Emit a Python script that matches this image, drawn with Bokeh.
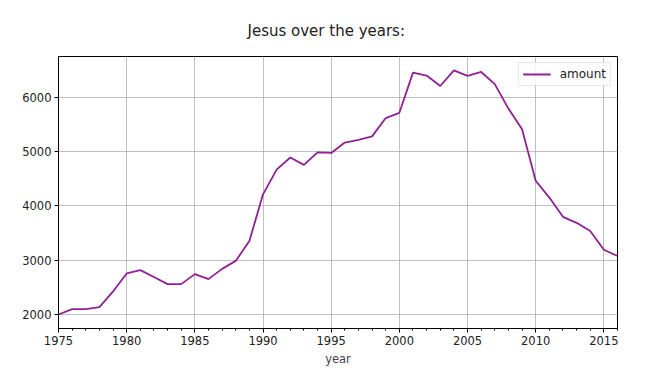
from bokeh.plotting import figure
from bokeh.models import Range1d, FixedTicker, Legend, LegendItem
from bokeh.embed import file_html
from bokeh.resources import INLINE

years = list(range(1975, 2017))
amount = [2000, 2100, 2100, 2135, 2425, 2756, 2817, 2690, 2560, 2560,
          2744, 2652, 2841, 2988, 3354, 4215, 4671, 4894, 4758, 4988,
          4978, 5169, 5217, 5283, 5620, 5717, 6458, 6404, 6211, 6500,
          6398, 6470, 6247, 5795, 5416, 4466, 4155, 3800, 3690, 3539,
          3194, 3079]
x_ticks = [1975, 1980, 1985, 1990, 1995, 2000, 2005, 2010, 2015]
y_ticks = [2000, 3000, 4000, 5000, 6000]

FONT = "DejaVu Sans"

p = figure(width=642, height=377, output_backend="svg", toolbar_location=None,
           x_range=Range1d(1975, 2016), y_range=Range1d(1742, 6755),
           min_border_left=58, min_border_right=25, min_border_top=56,
           min_border_bottom=49, title="Jesus over the years:")
p.title.text_font = FONT
p.title.text_font_size = "15px"
p.title.text_font_style = "normal"
p.title.align = "left"
p.title.text_color = "#222222"
p.title.offset = 189
p.title.standoff = 33

line = p.line(years, amount, line_color="#8f2195", line_width=1.8)

legend = Legend(items=[LegendItem(label="amount", renderers=[line])],
                location="top_right")
legend.label_text_font = FONT
legend.label_text_font_size = "12px"
legend.label_text_color = "#222222"
legend.border_line_color = "#cccccc"
legend.border_line_width = 1
legend.background_fill_alpha = 0.8
legend.margin = 6
legend.padding = 4
legend.spacing = 0
legend.glyph_width = 28
legend.label_standoff = 9
legend.label_height = 14
legend.glyph_height = 14
p.add_layout(legend)

p.xaxis.ticker = FixedTicker(ticks=x_ticks, minor_ticks=years)
p.yaxis.ticker = FixedTicker(ticks=y_ticks, minor_ticks=[])
p.xaxis.axis_label = "year"
p.xaxis.axis_label_text_font = FONT
p.xaxis.axis_label_text_font_style = "normal"
p.xaxis.axis_label_text_font_size = "11.5px"
p.xaxis.axis_label_standoff = 4
for ax in (p.xaxis, p.yaxis):
    ax.major_label_text_font = FONT
    ax.major_label_text_font_size = "11.5px"
    ax.major_label_text_color = "#222222"
    ax.axis_line_color = "black"
    ax.major_tick_line_color = "black"
    ax.minor_tick_line_color = "black"
    ax.major_tick_out = 4
    ax.major_tick_in = 0
    ax.minor_tick_out = 2
    ax.minor_tick_in = 0
    ax.major_label_standoff = 3
p.yaxis.major_label_orientation = "horizontal"

p.grid.grid_line_color = "#b0b0b0"
p.grid.grid_line_width = 0.8
p.outline_line_color = "black"
p.outline_line_width = 1

open("out.html", "w").write(file_html(p, INLINE))
